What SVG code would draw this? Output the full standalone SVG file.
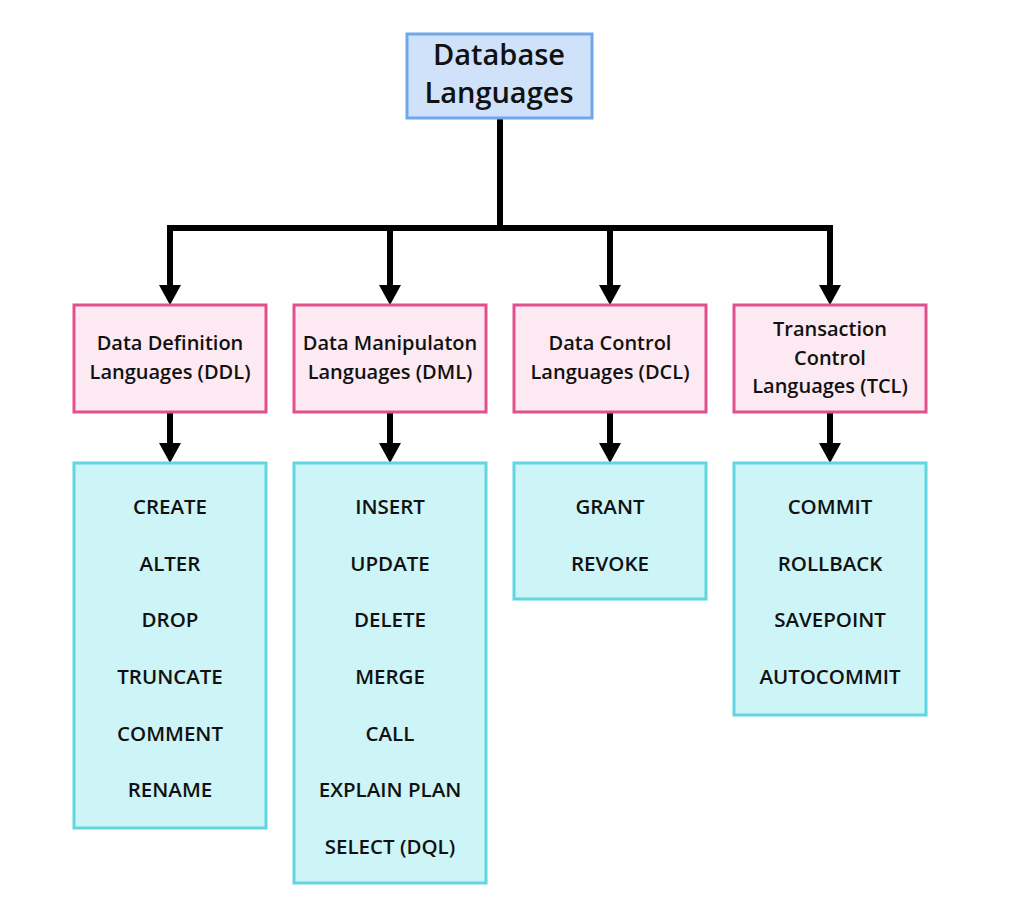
<svg xmlns="http://www.w3.org/2000/svg" width="1026" height="910" viewBox="0 0 1026 910">
<style>
text{font-family:"Open Sans","Noto Sans","Liberation Sans",sans-serif;font-weight:600;fill:#111;text-anchor:middle}
.root rect{fill:#cfe2f9;stroke:#6ea8ea;stroke-width:3}
.cat rect{fill:#fce9f1;stroke:#e0508c;stroke-width:3}
.list rect{fill:#cdf4f7;stroke:#5fd6e0;stroke-width:3}
.t1{font-size:29px}
.t2{font-size:20px}
.t3{font-size:20.5px}
.conn path{fill:none;stroke:#000;stroke-width:6}
</style>
<defs>
<marker id="ah" markerUnits="userSpaceOnUse" markerWidth="22" markerHeight="22" viewBox="0 0 20 22" refX="5" refY="11" orient="auto">
<path d="M0,0 L20,11 L0,22 z" fill="#000"/>
</marker>
</defs>
<rect width="1026" height="910" fill="#fff"/>
<g class="conn">
<path d="M500,119 V228"/>
<path d="M170,228 H830"/>
<path d="M170,225 V290" marker-end="url(#ah)"/>
<path d="M390,228 V290" marker-end="url(#ah)"/>
<path d="M610,228 V290" marker-end="url(#ah)"/>
<path d="M830,225 V290" marker-end="url(#ah)"/>
<path d="M170,412 V448" marker-end="url(#ah)"/>
<path d="M390,412 V448" marker-end="url(#ah)"/>
<path d="M610,412 V448" marker-end="url(#ah)"/>
<path d="M830,412 V448" marker-end="url(#ah)"/>
</g>
<g id="root" class="root">
<rect x="407" y="34" width="185" height="84"/>
<text class="t1" x="499" y="65">Database</text>
<text class="t1" x="499" y="103">Languages</text>
</g>
<g id="ddl" class="cat">
<rect x="74" y="305" width="192" height="107"/>
<text class="t2" x="170" y="350">Data Definition</text>
<text class="t2" x="170" y="379">Languages (DDL)</text>
</g>
<g id="dml" class="cat">
<rect x="294" y="305" width="192" height="107"/>
<text class="t2" x="390" y="350">Data Manipulaton</text>
<text class="t2" x="390" y="379">Languages (DML)</text>
</g>
<g id="dcl" class="cat">
<rect x="514" y="305" width="192" height="107"/>
<text class="t2" x="610" y="350">Data Control</text>
<text class="t2" x="610" y="379">Languages (DCL)</text>
</g>
<g id="tcl" class="cat">
<rect x="734" y="305" width="192" height="107"/>
<text class="t2" x="830" y="336">Transaction</text>
<text class="t2" x="830" y="365">Control</text>
<text class="t2" x="830" y="393">Languages (TCL)</text>
</g>
<g id="ddl-cmds" class="list">
<rect x="74" y="463" width="192" height="365"/>
<text class="t3" x="170" y="514">CREATE</text>
<text class="t3" x="170" y="571">ALTER</text>
<text class="t3" x="170" y="627">DROP</text>
<text class="t3" x="170" y="684">TRUNCATE</text>
<text class="t3" x="170" y="741">COMMENT</text>
<text class="t3" x="170" y="797">RENAME</text>
</g>
<g id="dml-cmds" class="list">
<rect x="294" y="463" width="192" height="420"/>
<text class="t3" x="390" y="514">INSERT</text>
<text class="t3" x="390" y="571">UPDATE</text>
<text class="t3" x="390" y="627">DELETE</text>
<text class="t3" x="390" y="684">MERGE</text>
<text class="t3" x="390" y="741">CALL</text>
<text class="t3" x="390" y="797">EXPLAIN PLAN</text>
<text class="t3" x="390" y="854">SELECT (DQL)</text>
</g>
<g id="dcl-cmds" class="list">
<rect x="514" y="463" width="192" height="136"/>
<text class="t3" x="610" y="514">GRANT</text>
<text class="t3" x="610" y="571">REVOKE</text>
</g>
<g id="tcl-cmds" class="list">
<rect x="734" y="463" width="192" height="252"/>
<text class="t3" x="830" y="514">COMMIT</text>
<text class="t3" x="830" y="571">ROLLBACK</text>
<text class="t3" x="830" y="627">SAVEPOINT</text>
<text class="t3" x="830" y="684">AUTOCOMMIT</text>
</g>
</svg>
